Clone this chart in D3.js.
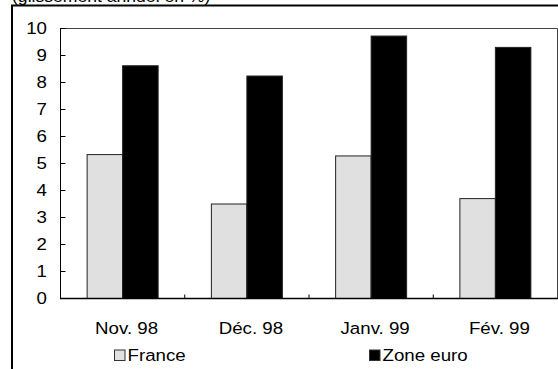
<!DOCTYPE html>
<html>
<head>
<meta charset="utf-8">
<script src="https://cdn.jsdelivr.net/npm/d3@7"></script>
<style>
  html, body { margin: 0; padding: 0; background: #fff; }
  svg { display: block; font-family: Arial, "Liberation Sans", sans-serif; }
</style>
</head>
<body>
<div id="chart"></div>
<script>
const months   = ["Nov. 98", "Déc. 98", "Janv. 99", "Fév. 99"];
const series   = ["France", "Zone euro"];
const france   = [5.33, 3.5, 5.28, 3.7];
const zoneEuro = [8.62, 8.24, 9.72, 9.3];
const yTicks   = [0, 1, 2, 3, 4, 5, 6, 7, 8, 9, 10];
const TITLE    = "(glissement annuel en %)";

const COLORS = { "France": "#e0e0e0", "Zone euro": "#000000" };
const STRETCH = 1.1; // source picture is a little wider than tall

const W = 558, H = 369;
const plot = { left: 60, right: 557, top: 28, bottom: 298 };

const svg = d3.select("#chart").append("svg")
    .attr("width", W)
    .attr("height", H);

// stretched text helper
const label = (x, y, txt, size, anchor) => svg.append("text")
    .attr("transform", `translate(${x},${y}) scale(${STRETCH},1)`)
    .attr("text-anchor", anchor)
    .style("font-size", size + "px")
    .attr("fill", "#000")
    .text(txt);

// outer frame (right and bottom are cut off)
svg.append("path")
    .attr("d", `M12,${H} V5.5 H${W}`)
    .attr("fill", "none")
    .attr("stroke", "#000")
    .attr("stroke-width", 2);

// title, mostly cut off at the top
label(12, 1.5, TITLE, 16, "start");

const x = d3.scaleBand().domain(months).range([plot.left, plot.right]);
const xs = d3.scaleBand().domain(series).range([0, x.bandwidth()])
    .paddingInner(0).paddingOuter(0.75);
const y = d3.scaleLinear().domain([0, 10]).range([plot.bottom, plot.top]);

// plot frame top / right
svg.append("path")
    .attr("d", `M${plot.left},${plot.top + 0.5} H${plot.right + 0.5} V${plot.bottom}`)
    .attr("fill", "none")
    .attr("stroke", "#444")
    .attr("stroke-width", 1);

// bars
const rows = months.map((m, i) => ({ month: m, values: [france[i], zoneEuro[i]] }));
const groups = svg.selectAll(".grp")
    .data(rows)
    .enter().append("g")
    .attr("class", "grp")
    .attr("transform", d => `translate(${x(d.month)},0)`);

groups.selectAll("rect")
    .data(d => series.map((s, j) => ({ s: s, v: d.values[j] })))
    .enter().append("rect")
    .attr("x", d => xs(d.s) + 0.5)
    .attr("y", d => y(d.v) + 0.5)
    .attr("width", xs.bandwidth())
    .attr("height", d => y(0) - y(d.v))
    .attr("fill", d => COLORS[d.s])
    .attr("stroke", "#222")
    .attr("stroke-width", 1);

// y-axis
const yAxis = svg.append("g")
    .attr("transform", `translate(${plot.left + 0.5},0)`)
    .call(d3.axisRight(y).tickValues(yTicks).tickSize(5).tickFormat(""));
yAxis.select(".domain").attr("d", `M0,${plot.top}V${plot.bottom}`).attr("stroke", "#000");
yAxis.selectAll(".tick line").attr("stroke", "#000");

yTicks.forEach(t => label(47, y(t) + 6, String(t), 17, "end"));

// x-axis with ticks between categories
const xAxis = svg.append("g")
    .attr("transform", `translate(0,${plot.bottom + 0.5})`);
xAxis.append("line")
    .attr("x1", plot.left).attr("x2", plot.right + 1)
    .attr("stroke", "#000").attr("stroke-width", 1.5);
xAxis.selectAll(".sep")
    .data(months.slice(1))
    .enter().append("line")
    .attr("x1", d => x(d) + 0.5).attr("x2", d => x(d) + 0.5)
    .attr("y1", 0).attr("y2", -4)
    .attr("stroke", "#000");

months.forEach(m => label(x(m) + x.bandwidth() / 2 + 4.5, 334, m, 17, "middle"));

// legend
const legendItems = [
    { s: "France",    x: 114.5 },
    { s: "Zone euro", x: 369.5 }
];
legendItems.forEach(it => {
    svg.append("rect")
        .attr("x", it.x).attr("y", 350)
        .attr("width", 10.5).attr("height", 10.5)
        .attr("fill", COLORS[it.s])
        .attr("stroke", "#333");
    label(it.x + 13, 361, it.s, 17, "start");
});
</script>
</body>
</html>
